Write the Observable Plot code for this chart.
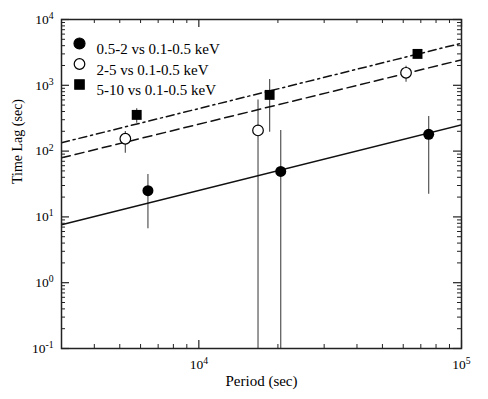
<!DOCTYPE html>
<html>
<head>
<meta charset="utf-8">
<script src="https://cdn.jsdelivr.net/npm/d3@7"></script>
<script src="https://cdn.jsdelivr.net/npm/@observablehq/plot@0.6"></script>
<style>
  html, body { margin: 0; padding: 0; background: #fff; }
  #chart { width: 488px; height: 399px; }
</style>
</head>
<body>
<div id="chart"></div>
<script>
// ---- data ----
const seriesNames = ["0.5-2 vs 0.1-0.5 keV", "2-5 vs 0.1-0.5 keV", "5-10 vs 0.1-0.5 keV"];

const periodA = [6400, 20500, 75000];
const lagA    = [25, 49, 180];
const lagA_lo = [6.6, 0.01, 22];
const lagA_hi = [44, 206, 336];

const periodB = [5250, 16800, 61500];
const lagB    = [154, 206, 1550];
const lagB_lo = [93, 0.01, 1110];
const lagB_hi = [199, 600, 1950];

const periodC = [5800, 18600, 68000];
const lagC    = [355, 715, 3000];
const lagC_lo = [265, 194, 2800];
const lagC_hi = [440, 1225, 3200];

// fitted power-law lines (end points read at the frame edges)
const fitPeriod = [3000, 100000];
const fitA = [7.6, 251];
const fitB = [79, 2440];
const fitC = [134, 4365];

// axis ticks
const xMajor = [1e4, 1e5];
const xMinor = [4000, 5000, 6000, 7000, 8000, 9000, 20000, 30000, 40000, 50000, 60000, 70000, 80000, 90000];
const yMajor = [0.1, 1, 10, 100, 1000, 10000];
const yMinor = [0.2,0.3,0.4,0.5,0.6,0.7,0.8,0.9, 2,3,4,5,6,7,8,9, 20,30,40,50,60,70,80,90, 200,300,400,500,600,700,800,900, 2000,3000,4000,5000,6000,7000,8000,9000];

// ---- build tables ----
const mk = (p, v, lo, hi, s) => p.map((x, i) => ({period: x, lag: v[i], lo: lo[i], hi: hi[i], series: s}));
const ptsA = mk(periodA, lagA, lagA_lo, lagA_hi, seriesNames[0]);
const ptsB = mk(periodB, lagB, lagB_lo, lagB_hi, seriesNames[1]);
const ptsC = mk(periodC, lagC, lagC_lo, lagC_hi, seriesNames[2]);
const allPts = [...ptsA, ...ptsB, ...ptsC];
const lineOf = (v) => fitPeriod.map((x, i) => ({period: x, lag: v[i]}));

const W = 488, H = 399;
const mL = 61, mR = 27, mT = 19, mB = 51;
const fw = W - mL - mR, fh = H - mT - mB;
const major = 8, minor = 4;
const serif = "Liberation Serif";

// legend definitions
const legendSymbols = [
  {symbol: "circle", fill: "black", stroke: "black", r: 5.5},
  {symbol: "circle", fill: "white", stroke: "black", r: 5.3},
  {symbol: "square", fill: "black", stroke: "black", r: 5.3}
];
const legendMarks = [];
seriesNames.forEach((name, i) => {
  const s = legendSymbols[i];
  const dy = 24 + i * 20.5;
  legendMarks.push(Plot.dot([name], {frameAnchor: "top-left", dx: 18, dy, symbol: s.symbol, r: s.r, fill: s.fill, stroke: s.stroke, strokeWidth: 1.2}));
  legendMarks.push(Plot.text([name], {frameAnchor: "top-left", dx: 35, dy, text: d => d, textAnchor: "start", fontSize: 15, fill: "black", fontFamily: serif}));
});

const chart = Plot.plot({
  width: W, height: H,
  marginLeft: mL, marginRight: mR, marginTop: mT, marginBottom: mB,
  style: {fontFamily: serif, fontSize: "13px", background: "white", color: "black"},
  x: {type: "log", domain: [3000, 100000], axis: null},
  y: {type: "log", domain: [0.1, 10000], axis: null},
  marks: [
    // error bars
    Plot.ruleX(allPts, {x: "period", y1: "lo", y2: "hi", stroke: "#555", strokeWidth: 1.2, clip: true}),
    // fitted lines
    Plot.line(lineOf(fitA), {x: "period", y: "lag", stroke: "#111", strokeWidth: 1.5, clip: true}),
    Plot.line(lineOf(fitB), {x: "period", y: "lag", stroke: "#111", strokeWidth: 1.5, strokeDasharray: "9,5", clip: true}),
    Plot.line(lineOf(fitC), {x: "period", y: "lag", stroke: "#111", strokeWidth: 1.5, strokeDasharray: "8,4,2,4", clip: true}),
    // points
    Plot.dot(ptsA, {x: "period", y: "lag", symbol: "circle", r: 5.5, fill: "black"}),
    Plot.dot(ptsB, {x: "period", y: "lag", symbol: "circle", r: 5.3, fill: "white", stroke: "black", strokeWidth: 1.2}),
    Plot.dot(ptsC, {x: "period", y: "lag", symbol: "square", r: 5.6, fill: "black"}),
    // ticks: bottom / top
    Plot.tickX(xMajor, {x: d => d, insetTop: fh - major, stroke: "#222", strokeWidth: 1.2}),
    Plot.tickX(xMinor, {x: d => d, insetTop: fh - minor, stroke: "#222", strokeWidth: 1}),
    Plot.tickX(xMajor, {x: d => d, insetBottom: fh - major, stroke: "#222", strokeWidth: 1.2}),
    Plot.tickX(xMinor, {x: d => d, insetBottom: fh - minor, stroke: "#222", strokeWidth: 1}),
    // ticks: left / right
    Plot.tickY(yMajor, {y: d => d, insetRight: fw - major, stroke: "#222", strokeWidth: 1.2}),
    Plot.tickY(yMinor, {y: d => d, insetRight: fw - minor, stroke: "#222", strokeWidth: 1}),
    Plot.tickY(yMajor, {y: d => d, insetLeft: fw - major, stroke: "#222", strokeWidth: 1.2}),
    Plot.tickY(yMinor, {y: d => d, insetLeft: fw - minor, stroke: "#222", strokeWidth: 1}),
    // tick labels
    Plot.axisX({ticks: xMajor, anchor: "bottom", tickSize: 0, tickPadding: 11, tickFormat: d => "10^" + Math.round(Math.log10(d)), fontSize: 13.5, label: null}),
    Plot.axisY({ticks: yMajor, anchor: "left", tickSize: 0, tickPadding: 8, tickFormat: d => "10^" + Math.round(Math.log10(d)), fontSize: 13.5, label: null}),
    // axis titles
    Plot.text(["Period (sec)"], {frameAnchor: "bottom", dy: 37, text: d => d, fontSize: 15, fill: "black"}),
    Plot.text(["Time Lag (sec)"], {frameAnchor: "left", dx: -44, rotate: -90, text: d => d, fontSize: 14, fill: "black"}),
    // legend
    ...legendMarks,
    Plot.frame({stroke: "#222", strokeWidth: 1.5})
  ]
});

// render exponents as superscripts
const ns = "http://www.w3.org/2000/svg";
chart.querySelectorAll("text").forEach(t => {
  const m = t.textContent.match(/^10\^(-?\d+)$/);
  if (m) {
    const target = t.querySelector("tspan") || t;
    target.textContent = "10";
    const sup = document.createElementNS(ns, "tspan");
    sup.setAttribute("dy", "-0.5em");
    sup.setAttribute("font-size", "0.72em");
    sup.textContent = m[1];
    target.appendChild(sup);
  }
});

document.getElementById("chart").appendChild(chart);
</script>
</body>
</html>
